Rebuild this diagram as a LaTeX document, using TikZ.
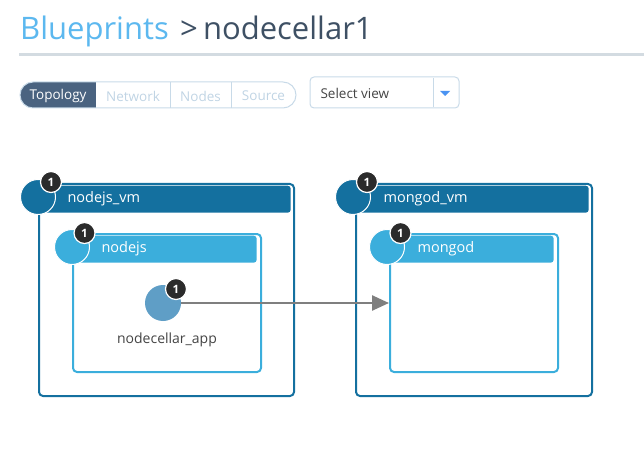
\documentclass[tikz,border=0pt]{standalone}
\usepackage{fontspec}
\setmainfont{Open Sans}
\usetikzlibrary{arrows.meta,positioning}

\definecolor{vmblue}{HTML}{14709F}
\definecolor{hostblue}{HTML}{3BAEDC}
\definecolor{appblue}{HTML}{5F9EC6}
\definecolor{badgedark}{HTML}{2B2B2B}
\definecolor{linkgray}{HTML}{7F7F7F}
\definecolor{titleblue}{HTML}{5CB8EF}
\definecolor{titledark}{HTML}{3E5064}
\definecolor{rulegray}{HTML}{D3DBE1}
\definecolor{tabdark}{HTML}{4A6380}
\definecolor{tabline}{HTML}{C8DAE8}
\definecolor{tabtext}{HTML}{C0D4E4}
\definecolor{viewtext}{HTML}{444444}

\tikzset{
    vmbox/.style={draw=vmblue,line width=2pt,rounded corners=4pt,inner sep=0pt},
    hostbox/.style={draw=hostblue,line width=2pt,rounded corners=4pt,inner sep=0pt},
    vmhead/.style={fill=vmblue,rounded corners=3pt,inner sep=0pt,anchor=north west},
    hosthead/.style={fill=hostblue,rounded corners=3pt,inner sep=0pt,anchor=north west},
    headlabel/.style={text=white,anchor=west,font=\fontsize{14.5}{16}\selectfont},
    vmdot/.style={circle,fill=vmblue,draw=white,line width=1pt,minimum size=35pt,inner sep=0pt},
    hostdot/.style={circle,fill=hostblue,draw=white,line width=1pt,minimum size=35pt,inner sep=0pt},
    appdot/.style={circle,fill=appblue,minimum size=36pt,inner sep=0pt},
    badge/.style={circle,fill=badgedark,draw=white,line width=1.2pt,minimum size=21pt,inner sep=0pt,
        text=white,font=\bfseries\fontsize{11.5}{12}\selectfont},
    tablabel/.style={font=\fontsize{13.5}{15}\selectfont,text=tabtext},
    link/.style={draw=linkgray,line width=2.5pt,-{Triangle[length=17pt,width=15pt]}},
}

\begin{document}
\begin{tikzpicture}[x=1pt,y=-1pt]
    \useasboundingbox (0,0) rectangle (644,470);

    % heading
    \node[anchor=base west,inner sep=0pt,text=titleblue,font=\fontsize{31}{34}\selectfont]
        (crumb) at (20,40) {Blueprints};
    \node[anchor=base west,inner sep=0pt,text=titledark,font=\fontsize{31}{34}\selectfont]
        (bpname) at (180,40) {>\,nodecellar1};
    \draw[rulegray,line width=3pt] (19,55) -- (644,55);

    % tabs
    \begin{scope}
        \clip[rounded corners=13pt] (20,82) rectangle (296,108);
        \fill[tabdark] (20,82) rectangle (96,108);
    \end{scope}
    \draw[tabline,line width=1pt,rounded corners=13pt] (20,82) rectangle (296,108);
    \draw[tabline,line width=1pt] (170,82) -- (170,108) (231,82) -- (231,108);
    \node[tablabel,text=white] (tabtopo) at (58,96) {Topology};
    \node[tablabel] (tabnet) at (133,96) {Network};
    \node[tablabel] (tabnodes) at (200.5,96) {Nodes};
    \node[tablabel] (tabsrc) at (263.5,96) {Source};

    \draw[tabline,line width=1pt,rounded corners=4pt] (310,77) rectangle (459,108);
    \draw[tabline,line width=1pt] (433,78) -- (433,107);
    \node[anchor=west,text=viewtext,font=\fontsize{13.5}{15}\selectfont] (viewsel) at (317,93) {Select view};
    \fill[titleblue!80!blue] (440,91) -- (450,91) -- (445,96) -- cycle;

    % nodejs_vm
    \node[vmbox,minimum width=255pt,minimum height=212pt] (nodejsvm) at (166.5,290) {};
    \node[vmhead,minimum width=250pt,minimum height=27pt] (nodejsvmhead)
        at ([shift={(2.5pt,-2.5pt)}]nodejsvm.north west) {};
    \node[headlabel] at (64,199) {nodejs\_vm};
    \node[vmdot] (nodejsvmdot) at (38,197) {};
    \node[badge] (nodejsvmcount) at (51,182) {1};

    \node[hostbox,minimum width=188pt,minimum height=138pt] (nodejs) at (167,303) {};
    \node[hosthead,minimum width=182pt,minimum height=27pt] (nodejshead)
        at ([shift={(2.5pt,-2.5pt)}]nodejs.north west) {};
    \node[headlabel] at (98,249) {nodejs};
    \node[hostdot] (nodejsdot) at (72,247) {};
    \node[badge] (nodejscount) at (84.5,233) {1};

    \node[appdot] (app) at (163,303) {};
    \node[below=8pt of app,xshift=4pt,text=viewtext,font=\fontsize{14}{16}\selectfont] (applabel) {nodecellar\_app};
    \node[badge] (appcount) at (176,289) {1};

    % mongod_vm
    \node[vmbox,minimum width=236pt,minimum height=212pt] (mongodvm) at (474,290) {};
    \node[vmhead,minimum width=231pt,minimum height=27pt] (mongodvmhead)
        at ([shift={(2.5pt,-2.5pt)}]mongodvm.north west) {};
    \node[headlabel] at (380,199) {mongod\_vm};
    \node[vmdot] (mongodvmdot) at (353,197) {};
    \node[badge] (mongodvmcount) at (367,182) {1};

    \node[hostbox,minimum width=168pt,minimum height=138pt] (mongod) at (474,303) {};
    \node[hosthead,minimum width=162pt,minimum height=27pt] (mongodhead)
        at ([shift={(2.5pt,-2.5pt)}]mongod.north west) {};
    \node[headlabel] at (414,249) {mongod};
    \node[hostdot] (mongoddot) at (387,247) {};
    \node[badge] (mongodcount) at (400.5,233) {1};

    \draw[link] (app) -- (mongod.west);
\end{tikzpicture}
\end{document}
